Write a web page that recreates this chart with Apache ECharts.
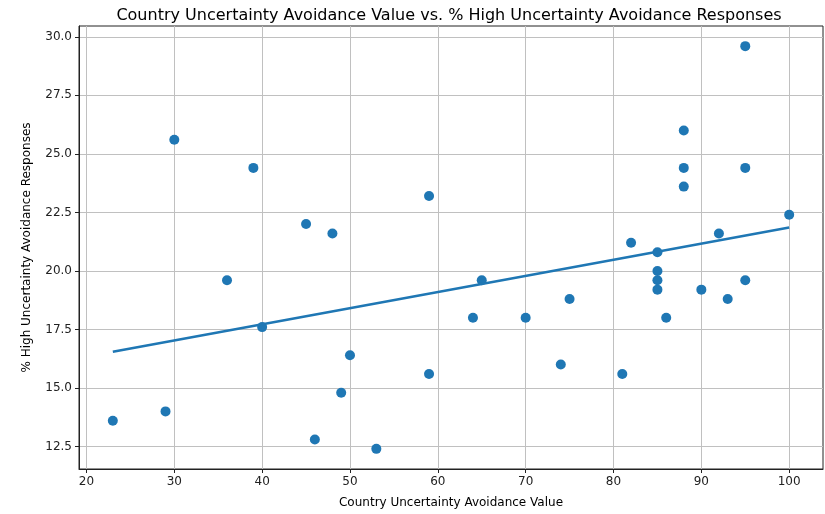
<!DOCTYPE html>
<html><head><meta charset="utf-8">
<script src="https://cdn.jsdelivr.net/npm/echarts@6/dist/echarts.min.js"></script>
<style>html,body{margin:0;padding:0;background:#fff}#c{width:825px;height:514px}</style>
</head><body><div id="c"></div>
<script>
const countryUAV = [23,29,30,36,39,40,45,46,48,49,50,53,59,59,64,65,70,74,75,81,82,85,85,85,85,86,88,88,88,90,92,93,95,95,95,100];
const highUAPct = [13.6,14.0,25.6,19.6,24.4,17.6,22.0,12.8,21.6,14.8,16.4,12.4,23.2,15.6,18.0,19.6,18.0,16.0,18.8,15.6,21.2,20.8,20.0,19.6,19.2,18.0,26.0,24.4,23.6,19.2,21.6,18.8,29.6,24.4,19.6,22.4];
const trendX = [23, 100];
const trendY = [16.55, 21.85];
const xTicks = [20,30,40,50,60,70,80,90,100];
const yTicks = [12.5,15.0,17.5,20.0,22.5,25.0,27.5,30.0];

const font = 'DejaVu Sans';
const chart = echarts.init(document.getElementById('c'));
chart.setOption({
  animation: false,
  backgroundColor: '#fff',
  title: {
    text: 'Country Uncertainty Avoidance Value vs. % High Uncertainty Avoidance Responses',
    left: 444, top: 3, textAlign: 'center',
    textStyle: {fontFamily: font, fontSize: 16, fontWeight: 'normal', color: '#000'}
  },
  grid: {left: 79, right: 2, top: 26, bottom: 45, show: true, borderColor: '#222', borderWidth: 1},
  xAxis: {
    type: 'value', min: 19.15, max: 103.85,
    name: 'Country Uncertainty Avoidance Value', nameLocation: 'middle', nameGap: 28,
    nameTextStyle: {fontFamily: font, fontSize: 12, color: '#000'},
    axisLine: {show: true, lineStyle: {color: '#222'}},
    axisTick: {show: true, length: 4, lineStyle: {color: '#222'}, customValues: xTicks},
    axisLabel: {fontFamily: font, fontSize: 12, color: '#222', margin: 7, customValues: xTicks},
    splitLine: {show: true, lineStyle: {color: '#c0c0c0', width: 1}}
  },
  yAxis: {
    type: 'value', min: 11.54, max: 30.46,
    name: '% High Uncertainty Avoidance Responses', nameLocation: 'middle', nameGap: 46,
    nameTextStyle: {fontFamily: font, fontSize: 12, color: '#000'},
    axisLine: {show: true, lineStyle: {color: '#222'}},
    axisTick: {show: true, length: 4, lineStyle: {color: '#222'}, customValues: yTicks},
    axisLabel: {fontFamily: font, fontSize: 12, color: '#222', margin: 7, customValues: yTicks,
      formatter: v => v.toFixed(1)},
    splitLine: {show: true, lineStyle: {color: '#c0c0c0', width: 1}}
  },
  series: [
    {
      type: 'scatter', symbolSize: 10,
      itemStyle: {color: '#1f77b4', opacity: 1},
      data: countryUAV.map((x, i) => [x, highUAPct[i]]),
      z: 3
    },
    {
      type: 'line', showSymbol: false, symbol: 'none',
      lineStyle: {color: '#1f77b4', width: 2.5},
      data: trendX.map((x, i) => [x, trendY[i]]),
      z: 4
    }
  ]
});
</script></body></html>
